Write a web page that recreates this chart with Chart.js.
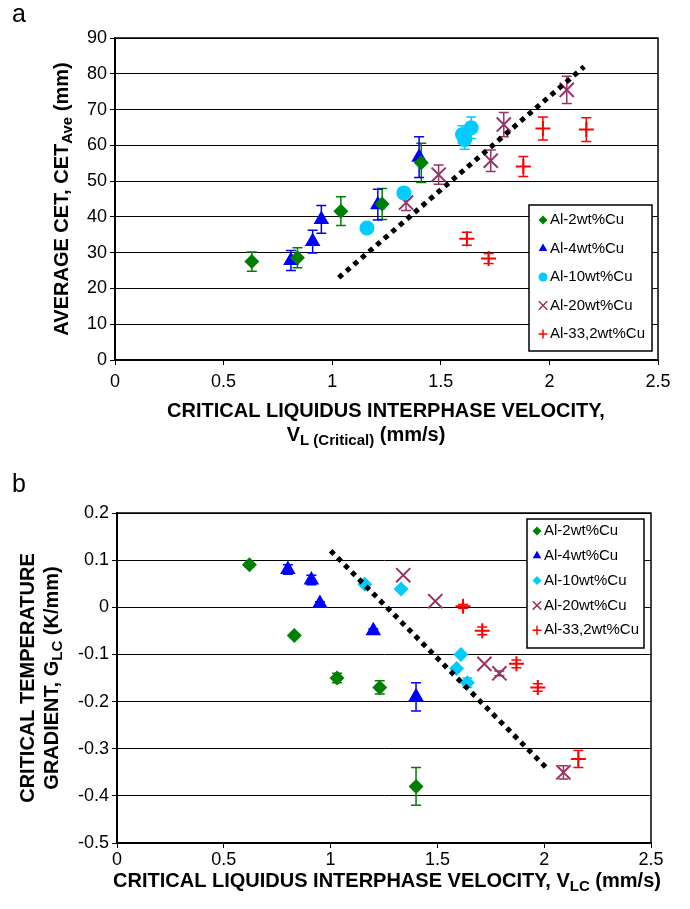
<!DOCTYPE html>
<html>
<head>
<meta charset="utf-8">
<script src="https://cdn.jsdelivr.net/npm/chart.js@4.4.0/dist/chart.umd.min.js"></script>
<style>
  body { margin: 0; background: #fff; width: 690px; height: 909px; position: relative; overflow: hidden; }
  canvas { position: absolute; left: 0; }
</style>
</head>
<body>
<canvas id="chartA" width="690" height="455" style="top:0"></canvas>
<canvas id="chartB" width="690" height="454" style="top:455px"></canvas>
<script>
const alloys = ['Al-2wt%Cu', 'Al-4wt%Cu', 'Al-10wt%Cu', 'Al-20wt%Cu', 'Al-33,2wt%Cu'];
const colors = ['#008000', '#0000ff', '#00ccff', '#993366', '#ff0000'];

// panel a: critical velocity (mm/s), average CET (mm), error half-width
const velA = [
  [0.63, 0.84, 1.04, 1.23, 1.41],
  [0.81, 0.91, 0.95, 1.21, 1.40],
  [1.16, 1.33, 1.60, 1.61, 1.64],
  [1.34, 1.49, 1.73, 1.79, 2.08],
  [1.62, 1.72, 1.88, 1.97, 2.17]
];
const cetA = [
  [27.5, 28.6, 41.6, 43.6, 55.1],
  [27.8, 33.1, 39.3, 43.4, 56.7],
  [36.9, 46.7, 63.0, 61.6, 64.9],
  [44.0, 51.8, 55.7, 65.8, 75.5],
  [33.9, 28.4, 54.1, 64.7, 64.4]
];
const errA = [
  [2.7, 2.8, 4.0, 4.3, 5.5],
  [2.8, 3.2, 3.9, 4.3, 5.7],
  [0, 1.3, 2.5, 2.7, 3.0],
  [2.2, 2.7, 3.0, 3.4, 3.8],
  [1.8, 1.4, 2.8, 3.2, 3.3]
];
const trendAX = [1.03, 2.16];
const trendAY = [23, 82];

// panel b: critical velocity (mm/s), critical gradient (K/mm), error half-width
const velB = [
  [0.62, 0.83, 1.03, 1.23, 1.40],
  [0.80, 0.91, 0.95, 1.20, 1.40],
  [1.16, 1.33, 1.61, 1.59, 1.64],
  [1.34, 1.49, 1.72, 1.79, 2.09],
  [1.62, 1.71, 1.87, 1.97, 2.16]
];
const gradB = [
  [0.09, -0.06, -0.15, -0.17, -0.38],
  [0.08, 0.058, 0.008, -0.05, -0.19],
  [0.049, 0.039, -0.10, -0.13, -0.16],
  [0.068, 0.013, -0.12, -0.14, -0.35],
  [0.002, -0.05, -0.12, -0.17, -0.322]
];
const errB = [
  [0.004, 0.004, 0.01, 0.014, 0.04],
  [0.01, 0.01, 0.004, 0.004, 0.03],
  [0, 0, 0, 0, 0.01],
  [0, 0, 0, 0.005, 0.014],
  [0.004, 0.008, 0.008, 0.008, 0.018]
];
const trendBX = [1.0, 2.02];
const trendBY = [0.12, -0.345];

const FONT = '"Liberation Sans", Arial, sans-serif';
const stylesA = ['rectRot', 'triangle', 'circle', 'crossRot', 'cross'];
const stylesB = ['rectRot', 'triangle', 'rectRot', 'crossRot', 'cross'];
const radii = [7.5, 9, 7.5, 10, 7.5];

function makeDatasets(vel, vals, errs, styles, tx, ty) {
  const sets = alloys.map((name, i) => ({
    label: name,
    data: vel[i].map((x, j) => ({ x: x, y: vals[i][j] })),
    err: errs[i],
    showLine: false,
    pointStyle: styles[i],
    pointRadius: radii[i],
    pointBackgroundColor: colors[i],
    pointBorderColor: colors[i],
    pointBorderWidth: (styles[i] === 'cross' || styles[i] === 'crossRot') ? 2 : 0
  }));
  sets.unshift({
    label: 'trend',
    data: tx.map((x, j) => ({ x: x, y: ty[j] })),
    showLine: true,
    borderColor: '#000',
    borderWidth: 5,
    borderDash: [5, 5],
    pointRadius: 0
  });
  return sets;
}

function textWidth(ctx, parts, size) {
  let w = 0;
  for (const [t, sub] of parts) {
    ctx.font = 'bold ' + (sub ? size * 0.75 : size) + 'px ' + FONT;
    w += ctx.measureText(t).width;
  }
  return w;
}
function drawRich(ctx, parts, cx, cy, size) {
  let x = cx - textWidth(ctx, parts, size) / 2;
  ctx.textAlign = 'left';
  ctx.textBaseline = 'middle';
  ctx.fillStyle = '#000';
  for (const [t, sub] of parts) {
    ctx.font = 'bold ' + (sub ? size * 0.75 : size) + 'px ' + FONT;
    ctx.fillText(t, x, cy + (sub ? size * 0.3 : 0));
    x += ctx.measureText(t).width;
  }
}

const errorBars = {
  id: 'errorBars',
  beforeDatasetsDraw(chart) {
    const ctx = chart.ctx, xs = chart.scales.x, ys = chart.scales.y;
    ctx.save();
    chart.data.datasets.forEach(ds => {
      if (!ds.err) return;
      ctx.strokeStyle = ds.pointBorderColor;
      ctx.lineWidth = 1.5;
      ds.data.forEach((p, j) => {
        const e = ds.err[j];
        if (!e) return;
        const px = xs.getPixelForValue(p.x);
        const top = ys.getPixelForValue(p.y + e), bot = ys.getPixelForValue(p.y - e);
        ctx.beginPath();
        ctx.moveTo(px, top); ctx.lineTo(px, bot);
        ctx.moveTo(px - 5, top); ctx.lineTo(px + 5, top);
        ctx.moveTo(px - 5, bot); ctx.lineTo(px + 5, bot);
        ctx.stroke();
      });
    });
    ctx.restore();
  }
};

const decorations = {
  id: 'decorations',
  afterDraw(chart, args, opts) {
    const ctx = chart.ctx, a = chart.chartArea;
    ctx.save();
    // frame top and right
    ctx.strokeStyle = '#000';
    ctx.lineWidth = 1.5;
    ctx.beginPath();
    ctx.moveTo(a.left, a.top); ctx.lineTo(a.right, a.top); ctx.lineTo(a.right, a.bottom);
    ctx.stroke();
    // legend box
    const L = opts.legend;
    ctx.fillStyle = '#fff';
    ctx.fillRect(L.x, L.y, L.w, L.h);
    ctx.strokeStyle = '#000';
    ctx.strokeRect(L.x, L.y, L.w, L.h);
    alloys.forEach((name, i) => {
      const yy = L.y + L.first + i * L.step;
      const st = opts.styles[i];
      ctx.fillStyle = colors[i];
      ctx.strokeStyle = colors[i];
      Chart.helpers.drawPoint(ctx, {
        pointStyle: st, radius: st === 'triangle' ? 5 : (st === 'crossRot' ? 6 : 4.5), rotation: 0,
        borderWidth: (st === 'cross' || st === 'crossRot') ? 2 : 0
      }, L.x + L.mx, yy);
      ctx.fillStyle = '#000';
      ctx.font = '15px ' + FONT;
      ctx.textAlign = 'left';
      ctx.textBaseline = 'middle';
      ctx.fillText(name, L.x + L.tx, yy);
    });
    // panel letter
    ctx.font = '25px ' + FONT;
    ctx.fillStyle = '#000';
    ctx.textAlign = 'left';
    ctx.textBaseline = 'middle';
    ctx.fillText(opts.letter.t, opts.letter.x, opts.letter.y);
    // axis titles
    opts.titles.forEach(t => {
      ctx.save();
      ctx.translate(t.x, t.y);
      if (t.rot) ctx.rotate(-Math.PI / 2);
      drawRich(ctx, t.parts, 0, 0, t.size);
      ctx.restore();
    });
    ctx.restore();
  }
};

function axes(ymin, ymax, ystep, yw, xh, xpad, fmt) {
  return {
    x: {
      type: 'linear', min: 0, max: 2.5,
      ticks: { stepSize: 0.5, color: '#000', font: { size: 18, family: FONT }, padding: xpad, callback: v => String(v) },
      grid: { drawOnChartArea: false, color: '#000', tickLength: 5 },
      border: { color: '#000', width: 2 },
      afterFit(s) { s.height = xh; }
    },
    y: {
      type: 'linear', min: ymin, max: ymax,
      ticks: { stepSize: ystep, color: '#000', font: { size: 18, family: FONT }, padding: 3, callback: fmt },
      grid: { color: '#000', lineWidth: 1, tickLength: 5 },
      border: { color: '#000', width: 2 },
      afterFit(s) { s.width = yw; }
    }
  };
}

new Chart(document.getElementById('chartA'), {
  type: 'scatter',
  data: { datasets: makeDatasets(velA, cetA, errA, stylesA, trendAX, trendAY) },
  options: {
    responsive: false, animation: false,
    layout: { padding: { top: 38, right: 32, left: 0, bottom: 0 } },
    scales: axes(0, 90, 10, 115, 95, 6, v => String(v)),
    plugins: {
      legend: { display: false }, tooltip: { enabled: false },
      decorations: {
        styles: stylesA,
        legend: { x: 529, y: 205, w: 123, h: 146, first: 15, step: 28.5, mx: 14, tx: 21 },
        letter: { t: 'a', x: 12, y: 15 },
        titles: [
          { rot: true, x: 62, y: 199, size: 20, parts: [['AVERAGE CET, CET'], ['Ave', true], [' (mm)']] },
          { x: 386, y: 411, size: 20, parts: [['CRITICAL LIQUIDUS INTERPHASE VELOCITY,']] },
          { x: 366, y: 435, size: 20, parts: [['V'], ['L (Critical)', true], [' (mm/s)']] }
        ]
      }
    }
  },
  plugins: [errorBars, decorations]
});

new Chart(document.getElementById('chartB'), {
  type: 'scatter',
  data: { datasets: makeDatasets(velB, gradB, errB, stylesB, trendBX, trendBY) },
  options: {
    responsive: false, animation: false,
    layout: { padding: { top: 58, right: 39, left: 0, bottom: 0 } },
    scales: axes(-0.5, 0.2, 0.1, 117, 66, 1, v => String(Math.round(v * 10) / 10)),
    plugins: {
      legend: { display: false }, tooltip: { enabled: false },
      decorations: {
        styles: stylesB,
        legend: { x: 527, y: 64, w: 117, h: 129, first: 12, step: 24.8, mx: 10, tx: 17 },
        letter: { t: 'b', x: 12, y: 30 },
        titles: [
          { rot: true, x: 28, y: 223, size: 20, parts: [['CRITICAL TEMPERATURE']] },
          { rot: true, x: 52, y: 223, size: 20, parts: [['GRADIENT, G'], ['LC', true], [' (K/mm)']] },
          { x: 387, y: 426, size: 20, parts: [['CRITICAL LIQUIDUS INTERPHASE VELOCITY, V'], ['LC', true], [' (mm/s)']] }
        ]
      }
    }
  },
  plugins: [errorBars, decorations]
});
</script>
</body>
</html>
